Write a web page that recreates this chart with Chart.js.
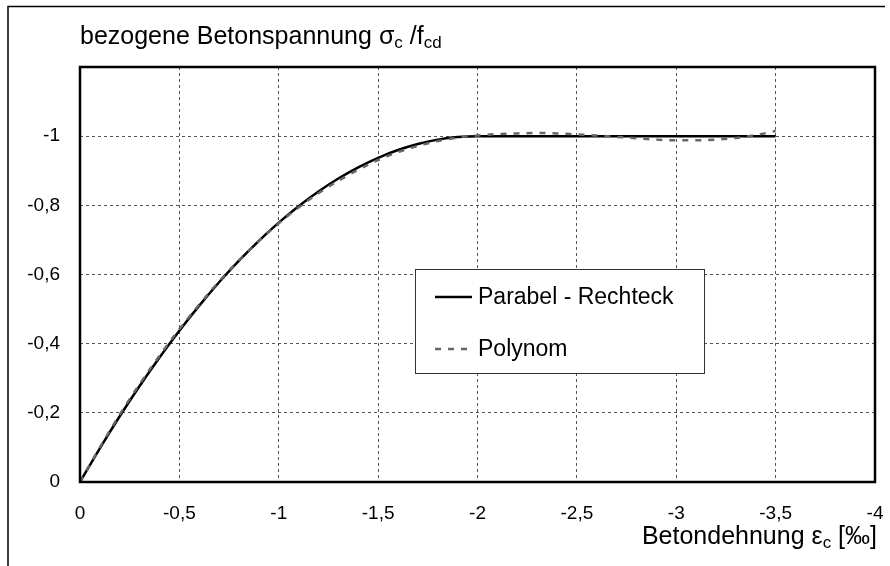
<!DOCTYPE html>
<html><head><meta charset="utf-8">
<script src="https://cdn.jsdelivr.net/npm/chart.js@4.4.0/dist/chart.umd.min.js"></script>
<style>html,body{margin:0;padding:0;background:#fff}#wrap{width:890px;height:566px}</style>
</head><body><div id="wrap"><canvas id="c" width="890" height="566"></canvas></div>
<script>
const strainPR = [0,-0.1,-0.2,-0.3,-0.4,-0.5,-0.6,-0.7,-0.8,-0.9,-1.0,-1.1,-1.2,-1.3,-1.4,-1.5,-1.6,-1.7,-1.8,-1.9,-2.0,-3.5];
const stressPR = [0,-0.0975,-0.19,-0.2775,-0.36,-0.4375,-0.51,-0.5775,-0.64,-0.6975,-0.75,-0.7975,-0.84,-0.8775,-0.91,-0.9375,-0.96,-0.9775,-0.99,-0.9975,-1.0,-1.0];
const strainPoly = [0,-0.1,-0.2,-0.3,-0.4,-0.5,-0.6,-0.7,-0.8,-0.9,-1.0,-1.1,-1.2,-1.3,-1.4,-1.5,-1.6,-1.7,-1.8,-1.9,-2.0,-2.1,-2.2,-2.3,-2.4,-2.5,-2.6,-2.7,-2.8,-2.9,-3.0,-3.1,-3.2,-3.3,-3.4,-3.5];
const stressPoly = [0,-0.1,-0.195,-0.283,-0.365,-0.442,-0.513,-0.58,-0.641,-0.697,-0.748,-0.794,-0.835,-0.871,-0.903,-0.931,-0.954,-0.972,-0.986,-0.996,-1.002,-1.006,-1.008,-1.009,-1.008,-1.005,-1.002,-0.998,-0.994,-0.99,-0.988,-0.988,-0.99,-0.995,-1.003,-1.015];
const seriesNames = ['Parabel - Rechteck','Polynom'];
const xTicks = [0,-0.5,-1,-1.5,-2,-2.5,-3,-3.5,-4];
const yTicks = [0,-0.2,-0.4,-0.6,-0.8,-1];

const FONT = '"Liberation Sans", Arial, sans-serif';
const fmt = v => String(Math.round(v*10)/10).replace('.', ',');

const decor = {
  id: 'decor',
  beforeDraw(chart) {
    const ctx = chart.ctx;
    ctx.save();
    ctx.fillStyle = '#fff';
    ctx.fillRect(0,0,chart.width,chart.height);
    ctx.restore();
  },
  afterDatasetsDraw(chart) {
    const ctx = chart.ctx, a = chart.chartArea;
    ctx.save();
    ctx.strokeStyle = '#000'; ctx.lineWidth = 2.5; ctx.setLineDash([]);
    ctx.strokeRect(a.left, a.top, a.right - a.left, a.bottom - a.top);
    ctx.lineWidth = 1.5;
    ctx.beginPath(); ctx.moveTo(8, 566); ctx.lineTo(8, 6.5); ctx.lineTo(885, 6.5); ctx.stroke();
    // legend
    const lx = 415, ly = 269, lw = 289, lh = 104;
    ctx.fillStyle = '#fff'; ctx.fillRect(lx, ly, lw, lh);
    ctx.strokeStyle = '#333'; ctx.lineWidth = 1; ctx.strokeRect(lx+0.5, ly+0.5, lw, lh);
    const ds = chart.data.datasets;
    const rows = [297, 349];
    ds.forEach((d, i) => {
      ctx.strokeStyle = d.borderColor; ctx.lineWidth = d.borderWidth;
      ctx.setLineDash(d.borderDash || []);
      ctx.beginPath(); ctx.moveTo(435, rows[i]); ctx.lineTo(472, rows[i]); ctx.stroke();
      ctx.setLineDash([]);
      ctx.fillStyle = '#000'; ctx.font = '23px ' + FONT; ctx.textBaseline = 'middle';
      ctx.fillText(d.label, 478, rows[i] + 1);
    });
    // y title with subscripts
    ctx.textBaseline = 'alphabetic'; ctx.fillStyle = '#000';
    let x = 80, y = 44;
    const big = '25px ' + FONT, small = '17px ' + FONT;
    const parts = [['bezogene Betonspannung σ', big, 0], ['c', small, 4], [' /f', big, 0], ['cd', small, 4]];
    parts.forEach(p => { ctx.font = p[1]; ctx.fillText(p[0], x, y + p[2]); x += ctx.measureText(p[0]).width; });
    // x title, right aligned
    const xparts = [['Betondehnung ε', big, 0], ['c', small, 4], [' [‰]', big, 0]];
    let w = 0; xparts.forEach(p => { ctx.font = p[1]; w += ctx.measureText(p[0]).width; });
    x = 877 - w; y = 544;
    xparts.forEach(p => { ctx.font = p[1]; ctx.fillText(p[0], x, y + p[2]); x += ctx.measureText(p[0]).width; });
    ctx.restore();
  }
};

new Chart(document.getElementById('c'), {
  type: 'line',
  data: {
    datasets: [
      { label: seriesNames[0], data: strainPR.map((e,i)=>({x:e, y:stressPR[i]})), borderColor: '#000', borderWidth: 2.5, pointRadius: 0, tension: 0.3, cubicInterpolationMode: 'monotone', fill: false, order: 2 },
      { label: seriesNames[1], data: strainPoly.map((e,i)=>({x:e, y:stressPoly[i]})), borderColor: '#666', borderWidth: 2.5, borderDash: [6,7], pointRadius: 0, tension: 0.3, cubicInterpolationMode: 'monotone', fill: false, order: 1 }
    ]
  },
  options: {
    responsive: false, animation: false, devicePixelRatio: 1,
    layout: { padding: { top: 67, right: 15, left: 0, bottom: 0 } },
    plugins: { legend: { display: false }, tooltip: { enabled: false }, title: { display: false } },
    scales: {
      x: {
        type: 'linear', min: -4, max: 0, reverse: true,
        afterFit: s => { s.height = 84; s.paddingLeft = 0; s.paddingRight = 0; },
        afterBuildTicks: s => { s.ticks = xTicks.map(v => ({value: v})); },
        ticks: { callback: v => fmt(v), font: { family: FONT, size: 19 }, color: '#000', padding: 20, maxRotation: 0, autoSkip: false },
        grid: { color: '#555', lineWidth: 1, drawTicks: false },
        border: { display: false, dash: [3,3] }
      },
      y: {
        type: 'linear', min: -1.2, max: 0, reverse: true,
        afterFit: s => { s.width = 80; s.paddingTop = 0; s.paddingBottom = 0; },
        afterBuildTicks: s => { s.ticks = [...yTicks, -1.2].map(v => ({value: v})); },
        ticks: { callback: v => (Math.abs(v + 1.2) < 1e-6 ? '' : fmt(v)), font: { family: FONT, size: 19 }, color: '#000', padding: 20, autoSkip: false },
        grid: { color: '#555', lineWidth: 1, drawTicks: false },
        border: { display: false, dash: [3,3] }
      }
    }
  },
  plugins: [decor]
});
</script></body></html>
